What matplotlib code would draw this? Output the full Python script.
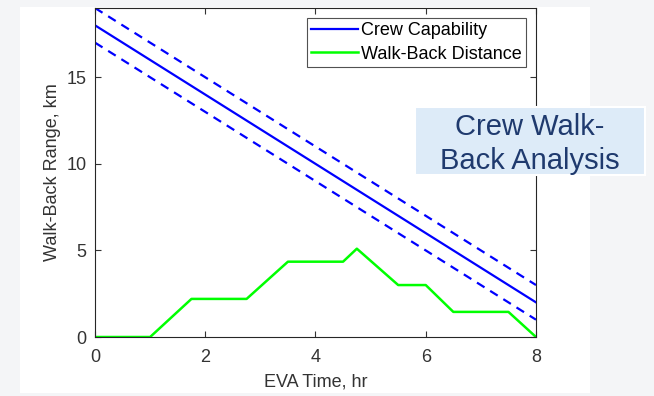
import numpy as np
import matplotlib.pyplot as plt
from matplotlib.patches import Rectangle

# EVA time grid and crew capability (nominal with +/- 1 km band)
eva_time = [0, 8]
capability = [18, 2]
capability_hi = [19, 3]
capability_lo = [17, 1]

# Walk-back distance profile over the EVA
walk_time = [0, 1, 1.75, 2.75, 3.5, 4.5, 4.75, 5.5, 6, 6.5, 7.5, 8]
walk_dist = [0, 0, 2.2, 2.2, 4.35, 4.35, 5.1, 3.0, 3.0, 1.45, 1.45, 0]

x_ticks = [0, 2, 4, 6, 8]
y_ticks = [0, 5, 10, 15]

plt.rcParams['font.family'] = ['Liberation Sans', 'DejaVu Sans']

fig = plt.figure(figsize=(6.54, 3.96), dpi=100)
fig.patch.set_facecolor('#f4f5f7')

# white panel behind the plot
fig.patches.append(Rectangle((20 / 654, 3 / 396), 570 / 654, 386 / 396,
                             transform=fig.transFigure, facecolor='white',
                             edgecolor='none', zorder=-1))

ax = fig.add_axes([95 / 654, 59 / 396, 441 / 654, 329 / 396])
ax.set_zorder(1)
ax.set_facecolor('white')

ax.plot(eva_time, capability, color='#0000ff', lw=1.6, label='Crew Capability')
ax.plot(eva_time, capability_hi, color='#0000ff', lw=1.6, ls=(0, (4, 3)))
ax.plot(eva_time, capability_lo, color='#0000ff', lw=1.6, ls=(0, (4, 3)))
ax.plot(walk_time, walk_dist, color='#00ff00', lw=1.8, label='Walk-Back Distance')

ax.set_xlim(0, 8)
ax.set_ylim(0, 19)
ax.set_xticks(x_ticks)
ax.set_yticks(y_ticks)
ax.tick_params(direction='in', top=True, right=True, labelsize=13,
               colors='#333333', length=4, width=0.8, pad=6)
ax.tick_params(axis='x', pad=9)
for s in ax.spines.values():
    s.set_color('#262626')
    s.set_linewidth(0.8)

ax.set_xlabel('EVA Time, hr', fontsize=13, color='#333333', labelpad=5)
ax.set_ylabel('Walk-Back Range, km', fontsize=13, color='#333333', labelpad=4)

leg = ax.legend(loc='upper right', fontsize=13, frameon=True, fancybox=False,
                handlelength=2.6, handletextpad=0.15, borderpad=0.25,
                labelspacing=0.35, borderaxespad=0.55)
leg.get_frame().set_edgecolor('#262626')
leg.get_frame().set_linewidth(0.8)

# title box on the right side
fig.patches.append(Rectangle((415 / 654, 1 - 175 / 396), 230 / 654, 68 / 396,
                             transform=fig.transFigure, facecolor='#ddebf8',
                             edgecolor='white', lw=1.5, zorder=5))
fig.text(530 / 654, 1 - 144 / 396, 'Crew Walk-\nBack Analysis', ha='center',
         va='center', fontsize=21, color='#1f3a6e', linespacing=1.25, zorder=6)

fig.savefig('out.png', dpi=100, facecolor=fig.get_facecolor())
